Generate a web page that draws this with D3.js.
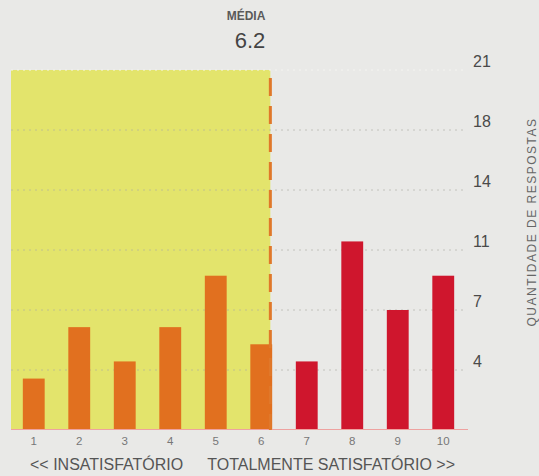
<!DOCTYPE html>
<html>
<head>
<meta charset="utf-8">
<script src="https://cdn.jsdelivr.net/npm/d3@7"></script>
<style>
  html, body { margin: 0; padding: 0; background: #e9e9e7; }
  svg { display: block; font-family: "Liberation Sans", Arial, sans-serif; }
</style>
</head>
<body>
<svg id="chart" width="539" height="476"></svg>
<script>
const categories = [1, 2, 3, 4, 5, 6, 7, 8, 9, 10];
const counts = [3, 6, 4, 6, 9, 5, 4, 11, 7, 9];
const meanValue = 6.2;
const meanLabel = "6.2";
const yTickValues = [3.5, 7, 10.5, 14, 17.5, 21];
const yTickLabels = ["4", "7", "11", "14", "18", "21"];
const yMax = 21;
const lowLabel = "<< INSATISFATÓRIO";
const highLabel = "TOTALMENTE SATISFATÓRIO >>";
const yTitle = "QUANTIDADE DE RESPOSTAS";
const meanTitle = "MÉDIA";

const svg = d3.select("#chart");
const W = 539, H = 476;

svg.append("rect").attr("width", W).attr("height", H).attr("fill", "#e9e9e7");

const x = d3.scaleBand().domain(categories).range([11, 466]).paddingInner(0.52).paddingOuter(0.26);
const y = d3.scaleLinear().domain([0, yMax]).range([430, 70]);
const step = x.step();
const xCenter = v => x(1) + x.bandwidth() / 2 + (v - 1) * step;
const xMean = xCenter(meanValue);

// unsatisfactory zone
svg.append("rect")
  .attr("x", 11).attr("y", y(yMax))
  .attr("width", xMean - 11).attr("height", y(0) - y(yMax))
  .attr("fill", "#e3e46c");

// gridlines
svg.append("g").selectAll("line").data(yTickValues).join("line")
  .attr("x1", 11).attr("x2", 466)
  .attr("y1", d => y(d)).attr("y2", d => y(d))
  .attr("stroke", d => d === yMax ? "#f6f6f2" : "#aaaaa2")
  .attr("stroke-opacity", d => d === yMax ? 0.95 : 0.6)
  .attr("stroke-width", 1)
  .attr("stroke-dasharray", "2,4");

// bars
svg.append("g").selectAll("rect").data(categories).join("rect")
  .attr("x", d => x(d))
  .attr("y", (d, i) => y(counts[i]))
  .attr("width", x.bandwidth())
  .attr("height", (d, i) => y(0) - y(counts[i]))
  .attr("fill", d => d <= 6 ? "#e1701f" : "#cf162d");

// baseline
svg.append("line")
  .attr("x1", 11).attr("x2", 468)
  .attr("y1", y(0) - 0.5).attr("y2", y(0) - 0.5)
  .attr("stroke", "#eea2a0").attr("stroke-width", 1);

// mean dashed line
svg.append("line")
  .attr("x1", xMean).attr("x2", xMean)
  .attr("y1", 78).attr("y2", y(0))
  .attr("stroke", "#e0782a").attr("stroke-width", 3)
  .attr("stroke-dasharray", "18,10");

// mean label
svg.append("text")
  .attr("x", xMean - 5).attr("y", 20)
  .attr("text-anchor", "end")
  .attr("font-size", 12).attr("font-weight", "bold")
  .attr("fill", "#5a5a5a")
  .text(meanTitle);
svg.append("text")
  .attr("x", xMean - 5).attr("y", 48)
  .attr("text-anchor", "end")
  .attr("font-size", 22)
  .attr("fill", "#444")
  .text(meanLabel);

// y tick labels
svg.append("g").selectAll("text").data(yTickValues).join("text")
  .attr("x", 473).attr("y", d => y(d) - 3)
  .attr("font-size", 16).attr("fill", "#4a4a4a")
  .text((d, i) => yTickLabels[i]);

// y title
svg.append("text")
  .attr("transform", `translate(536,222) rotate(-90)`)
  .attr("text-anchor", "middle")
  .attr("font-size", 12).attr("letter-spacing", 1.5)
  .attr("fill", "#666")
  .text(yTitle);

// x tick labels
svg.append("g").selectAll("text").data(categories).join("text")
  .attr("x", d => x(d) + x.bandwidth() / 2).attr("y", 445)
  .attr("text-anchor", "middle")
  .attr("font-size", 11.5).attr("fill", "#777")
  .text(d => d);

// bottom labels
svg.append("text")
  .attr("x", 30).attr("y", 470)
  .attr("font-size", 16).attr("fill", "#555")
  .text(lowLabel);
svg.append("text")
  .attr("x", 455).attr("y", 470)
  .attr("text-anchor", "end")
  .attr("font-size", 16).attr("fill", "#555")
  .text(highLabel);
</script>
</body>
</html>
